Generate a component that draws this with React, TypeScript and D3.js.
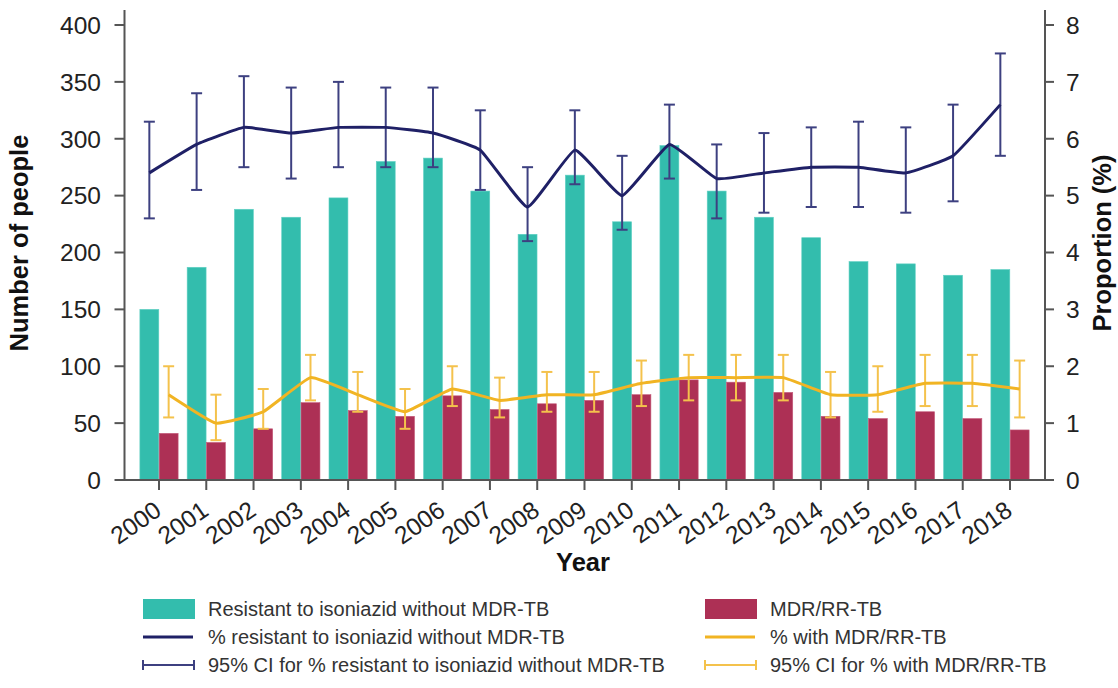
import React from "react";
import * as d3 from "d3";

const years = ["2000","2001","2002","2003","2004","2005","2006","2007","2008","2009","2010","2011","2012","2013","2014","2015","2016","2017","2018"];
const resistantCounts = [150, 187, 238, 231, 248, 280, 283, 254, 216, 268, 227, 294, 254, 231, 213, 192, 190, 180, 185];
const mdrCounts = [41, 33, 45, 68, 61, 56, 74, 62, 67, 70, 75, 88, 86, 77, 56, 54, 60, 54, 44];
const pctResistant = [5.4, 5.9, 6.2, 6.1, 6.2, 6.2, 6.1, 5.8, 4.8, 5.8, 5.0, 5.9, 5.3, 5.4, 5.5, 5.5, 5.4, 5.7, 6.6];
const pctResistantLo = [4.6, 5.1, 5.5, 5.3, 5.5, 5.5, 5.5, 5.1, 4.2, 5.2, 4.4, 5.3, 4.6, 4.7, 4.8, 4.8, 4.7, 4.9, 5.7];
const pctResistantHi = [6.3, 6.8, 7.1, 6.9, 7.0, 6.9, 6.9, 6.5, 5.5, 6.5, 5.7, 6.6, 5.9, 6.1, 6.2, 6.3, 6.2, 6.6, 7.5];
const pctMdr = [1.5, 1.0, 1.2, 1.8, 1.5, 1.2, 1.6, 1.4, 1.5, 1.5, 1.7, 1.8, 1.8, 1.8, 1.5, 1.5, 1.7, 1.7, 1.6];
const pctMdrLo = [1.1, 0.7, 0.9, 1.4, 1.2, 0.9, 1.3, 1.1, 1.2, 1.2, 1.3, 1.4, 1.4, 1.4, 1.1, 1.2, 1.3, 1.3, 1.1];
const pctMdrHi = [2.0, 1.5, 1.6, 2.2, 1.9, 1.6, 2.0, 1.8, 1.9, 1.9, 2.1, 2.2, 2.2, 2.2, 1.9, 2.0, 2.2, 2.2, 2.1];
const leftTicks = [0, 50, 100, 150, 200, 250, 300, 350, 400];
const rightTicks = [0, 1, 2, 3, 4, 5, 6, 7, 8];
const seriesKeys = ["resistant", "mdr"];

const TEAL = "#33BDAD";
const CRIMSON = "#AD3055";
const NAVY = "#1F2066";
const NAVY_CI = "#3D4080";
const YELLOW = "#F1B423";
const YELLOW_CI = "#F4C24C";
const AXIS = "#555555";
const FONT = "'Liberation Sans', Arial, Helvetica, sans-serif";

export default function App() {
  const W = 1118, H = 688;
  const left = 124.5, right = 1045, top = 10, bottom = 480;

  const x0 = d3.scaleBand<string>().domain(years).range([135.36, 1033.64]).paddingInner(0.175).paddingOuter(0.0875);
  const x1 = d3.scaleBand<string>().domain(seriesKeys).range([0, x0.bandwidth()]).padding(0.02);
  const yL = d3.scaleLinear().domain([0, 400]).range([480, 25]);
  const yR = d3.scaleLinear().domain([0, 8]).range([480, 25]);

  const cx = (i: number) => (x0(years[i]) as number) + x0.bandwidth() / 2;
  const cRes = (i: number) => (x0(years[i]) as number) + (x1("resistant") as number) + x1.bandwidth() / 2;
  const cMdr = (i: number) => (x0(years[i]) as number) + (x1("mdr") as number) + x1.bandwidth() / 2;

  const curve = d3.curveCardinal.tension(0.65);
  const lineRes = d3.line<number>().x((_, i) => cRes(i)).y((d) => yR(d)).curve(curve);
  const lineMdr = d3.line<number>().x((_, i) => cMdr(i)).y((d) => yR(d)).curve(curve);

  const cap = 5.5;

  const legendRows = [609, 637, 665];
  const lgC1 = 143, lgC2 = 705, lgW = 52, lgT1 = 208, lgT2 = 770;

  return (
    <svg width={W} height={H} style={{ position: "absolute", left: 0, top: 0, display: "block", background: "#fff" }} fontFamily={FONT}>
      {/* bars */}
      {years.map((yr, i) => (
        <g key={"b" + yr}>
          <rect x={(x0(yr) as number) + (x1("resistant") as number)} y={yL(resistantCounts[i])} width={x1.bandwidth()} height={yL(0) - yL(resistantCounts[i])} fill={TEAL} stroke="#5fd0c3" strokeWidth={0.6} />
          <rect x={(x0(yr) as number) + (x1("mdr") as number)} y={yL(mdrCounts[i])} width={x1.bandwidth()} height={yL(0) - yL(mdrCounts[i])} fill={CRIMSON} stroke="#c45a7a" strokeWidth={0.6} />
        </g>
      ))}

      {/* navy CI */}
      {years.map((yr, i) => (
        <g key={"cn" + yr} stroke={NAVY_CI} strokeWidth={2} fill="none">
          <line x1={cRes(i)} x2={cRes(i)} y1={yR(pctResistantLo[i])} y2={yR(pctResistantHi[i])} />
          <line x1={cRes(i) - cap} x2={cRes(i) + cap} y1={yR(pctResistantLo[i])} y2={yR(pctResistantLo[i])} />
          <line x1={cRes(i) - cap} x2={cRes(i) + cap} y1={yR(pctResistantHi[i])} y2={yR(pctResistantHi[i])} />
        </g>
      ))}
      <path d={lineRes(pctResistant) as string} fill="none" stroke={NAVY} strokeWidth={3} strokeLinejoin="round" />

      {/* yellow CI */}
      {years.map((yr, i) => (
        <g key={"cy" + yr} stroke={YELLOW_CI} strokeWidth={2} fill="none">
          <line x1={cMdr(i)} x2={cMdr(i)} y1={yR(pctMdrLo[i])} y2={yR(pctMdrHi[i])} />
          <line x1={cMdr(i) - cap} x2={cMdr(i) + cap} y1={yR(pctMdrLo[i])} y2={yR(pctMdrLo[i])} />
          <line x1={cMdr(i) - cap} x2={cMdr(i) + cap} y1={yR(pctMdrHi[i])} y2={yR(pctMdrHi[i])} />
        </g>
      ))}
      <path d={lineMdr(pctMdr) as string} fill="none" stroke={YELLOW} strokeWidth={3} strokeLinejoin="round" />

      {/* axes */}
      <g stroke={AXIS} strokeWidth={2}>
        <line x1={left} x2={left} y1={top} y2={bottom + 1} />
        <line x1={right} x2={right} y1={top} y2={bottom + 1} />
        <line x1={left} x2={right} y1={bottom} y2={bottom} />
        {leftTicks.map((t) => (
          <line key={"lt" + t} x1={left - 10} x2={left} y1={yL(t)} y2={yL(t)} />
        ))}
        {rightTicks.map((t) => (
          <line key={"rt" + t} x1={right} x2={right + 9} y1={yR(t)} y2={yR(t)} />
        ))}
        {years.map((yr, i) => (
          <line key={"xt" + yr} x1={cx(i)} x2={cx(i)} y1={bottom} y2={bottom + 10} />
        ))}
      </g>
      <g fontSize={24.5} fill="#222">
        {leftTicks.map((t) => (
          <text key={"ll" + t} x={101} y={yL(t)} dy="0.36em" textAnchor="end">{t}</text>
        ))}
        {rightTicks.map((t) => (
          <text key={"rl" + t} x={1066} y={yR(t)} dy="0.36em" textAnchor="start">{t}</text>
        ))}
        {years.map((yr, i) => (
          <text key={"xl" + yr} transform={`translate(${cx(i) + 4},${514}) rotate(-35)`} textAnchor="end">{yr}</text>
        ))}
      </g>
      <text x={583} y={571} textAnchor="middle" fontSize={25.5} fontWeight="bold" fill="#111">Year</text>
      <text transform={`translate(28,243) rotate(-90)`} textAnchor="middle" fontSize={25.5} fontWeight="bold" fill="#111">Number of people</text>
      <text transform={`translate(1111,243) rotate(-90)`} textAnchor="middle" fontSize={25.5} fontWeight="bold" fill="#111">Proportion (%)</text>

      {/* legend */}
      <g fontSize={20} fill="#333">
        <rect x={lgC1} y={legendRows[0] - 10} width={lgW} height={20} fill={TEAL} />
        <text x={lgT1} y={legendRows[0]} dy="0.36em">Resistant to isoniazid without MDR-TB</text>
        <line x1={lgC1} x2={lgC1 + 50} y1={legendRows[1]} y2={legendRows[1]} stroke={NAVY} strokeWidth={3} />
        <text x={lgT1} y={legendRows[1]} dy="0.36em">% resistant to isoniazid without MDR-TB</text>
        <g stroke={NAVY_CI} strokeWidth={2}>
          <line x1={lgC1} x2={lgC1 + 51} y1={legendRows[2]} y2={legendRows[2]} />
          <line x1={lgC1} x2={lgC1} y1={legendRows[2] - 5} y2={legendRows[2] + 5} />
          <line x1={lgC1 + 51} x2={lgC1 + 51} y1={legendRows[2] - 5} y2={legendRows[2] + 5} />
        </g>
        <text x={lgT1} y={legendRows[2]} dy="0.36em">95% CI for % resistant to isoniazid without MDR-TB</text>

        <rect x={lgC2} y={legendRows[0] - 10} width={lgW} height={20} fill={CRIMSON} />
        <text x={lgT2} y={legendRows[0]} dy="0.36em">MDR/RR-TB</text>
        <line x1={lgC2} x2={lgC2 + 50} y1={legendRows[1]} y2={legendRows[1]} stroke={YELLOW} strokeWidth={3} />
        <text x={lgT2} y={legendRows[1]} dy="0.36em">% with MDR/RR-TB</text>
        <g stroke={YELLOW_CI} strokeWidth={2}>
          <line x1={lgC2} x2={lgC2 + 51} y1={legendRows[2]} y2={legendRows[2]} />
          <line x1={lgC2} x2={lgC2} y1={legendRows[2] - 5} y2={legendRows[2] + 5} />
          <line x1={lgC2 + 51} x2={lgC2 + 51} y1={legendRows[2] - 5} y2={legendRows[2] + 5} />
        </g>
        <text x={lgT2} y={legendRows[2]} dy="0.36em">95% CI for % with MDR/RR-TB</text>
      </g>
    </svg>
  );
}
